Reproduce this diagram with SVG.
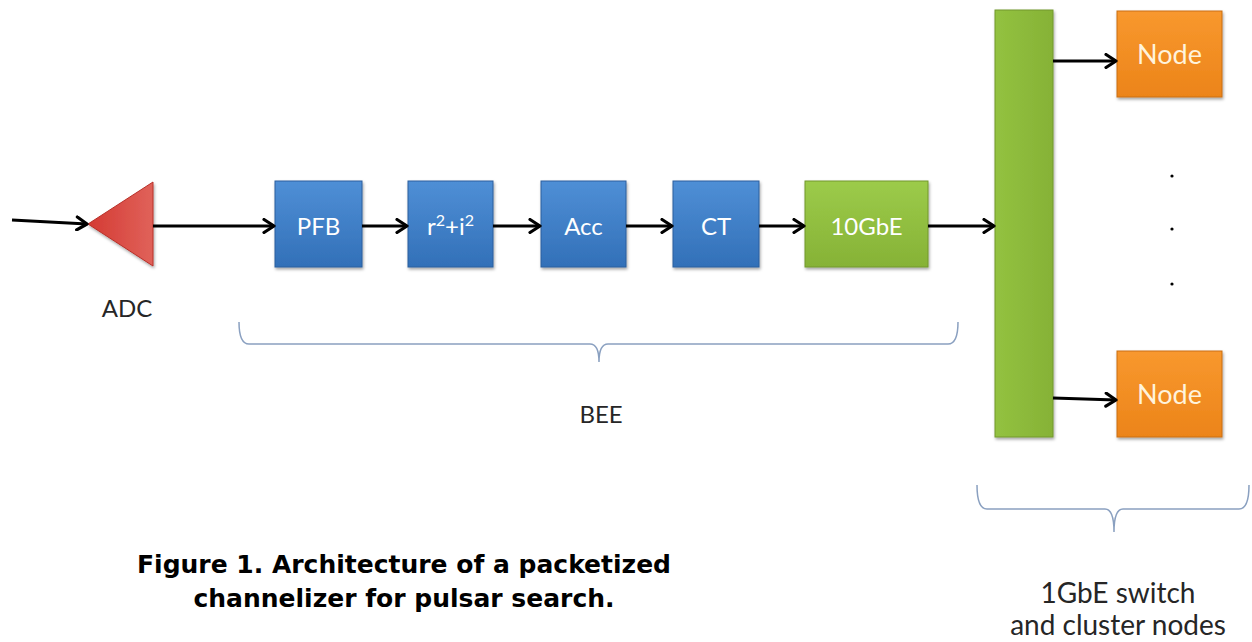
<svg xmlns="http://www.w3.org/2000/svg" width="1252" height="642" viewBox="0 0 1252 642">
<defs>
<linearGradient id="gBlue" x1="0" y1="0" x2="0" y2="1"><stop offset="0" stop-color="#4f8fd6"/><stop offset="1" stop-color="#3270b8"/></linearGradient>
<linearGradient id="gGreen" x1="0" y1="0" x2="0" y2="1"><stop offset="0" stop-color="#9ccb4a"/><stop offset="1" stop-color="#86b236"/></linearGradient>
<linearGradient id="gGreenV" x1="0" y1="0" x2="1" y2="0"><stop offset="0" stop-color="#93c240"/><stop offset="1" stop-color="#86b236"/></linearGradient>
<linearGradient id="gOrange" x1="0" y1="0" x2="0" y2="1"><stop offset="0" stop-color="#f8982e"/><stop offset="1" stop-color="#ec8419"/></linearGradient>
<linearGradient id="gRed" x1="0" y1="0" x2="1" y2="0"><stop offset="0" stop-color="#d43a33"/><stop offset="1" stop-color="#e0625a"/></linearGradient>
<filter id="sh" x="-10%" y="-10%" width="130%" height="130%"><feDropShadow dx="1" dy="2" stdDeviation="1.5" flood-color="#000" flood-opacity="0.35"/></filter>
<marker id="ah" markerWidth="16" markerHeight="16" refX="13" refY="8" orient="auto" markerUnits="userSpaceOnUse"><polyline points="3,1.5 13,8 3,14.5" fill="none" stroke="#000" stroke-width="3.2" stroke-linecap="round" stroke-linejoin="round"/></marker>
<style>
.box{filter:url(#sh);stroke-width:1}
.blue{fill:url(#gBlue);stroke:#2b5f9e}
.green{fill:url(#gGreen);stroke:#72982c}
.orange{fill:url(#gOrange);stroke:#c96e12}
.lbl{font-family:Lato,"Liberation Sans",sans-serif;font-size:24px;fill:#fff;text-anchor:middle}
.nlbl{font-family:Lato,"Liberation Sans",sans-serif;font-size:27px;fill:#fff3dc;text-anchor:middle}
.txt{font-family:Lato,"Liberation Sans",sans-serif;font-size:24px;fill:#262626;text-anchor:middle}
.txt2{font-family:Lato,"Liberation Sans",sans-serif;font-size:28px;fill:#262626;text-anchor:middle}
.cap{font-family:"DejaVu Sans",Verdana,sans-serif;font-weight:bold;font-size:25px;fill:#000;text-anchor:middle}
.conn{stroke:#000;stroke-width:3.2;fill:none;marker-end:url(#ah)}
.brace{stroke:#8aa0c0;stroke-width:1.5;fill:none}
</style>
</defs>
<rect width="1252" height="642" fill="#fff"/>

<g id="adc">
<polygon points="88,224 153,182 153,266" fill="url(#gRed)" stroke="#b83029" stroke-width="1" filter="url(#sh)"/>
<text class="txt" x="127" y="317">ADC</text>
</g>
<g id="pfb"><rect class="box blue" x="275" y="181" width="87" height="86"/><text class="lbl" x="318.5" y="235">PFB</text></g>
<g id="pow"><rect class="box blue" x="408" y="181" width="85" height="86"/><text class="lbl" x="450.5" y="235">r<tspan font-size="16" dy="-9">2</tspan><tspan dy="9">+i</tspan><tspan font-size="16" dy="-9">2</tspan></text></g>
<g id="acc"><rect class="box blue" x="541" y="181" width="85" height="86"/><text class="lbl" x="583.5" y="235">Acc</text></g>
<g id="ct"><rect class="box blue" x="673" y="181" width="86" height="86"/><text class="lbl" x="716" y="235">CT</text></g>
<g id="tengbe"><rect class="box green" x="805" y="181" width="123" height="86"/><text class="lbl" x="866.5" y="235">10GbE</text></g>
<g id="switch"><rect class="box" x="995" y="10" width="58" height="427" fill="url(#gGreenV)" stroke="#72982c"/></g>
<g id="node1"><rect class="box orange" x="1117" y="11" width="105" height="86"/><text class="nlbl" x="1169.5" y="64">Node</text></g>
<g id="node2"><rect class="box orange" x="1117" y="351" width="105" height="86"/><text class="nlbl" x="1169.5" y="404">Node</text></g>
<g id="dots" fill="#000"><circle cx="1172" cy="176" r="1.6"/><circle cx="1172" cy="229" r="1.6"/><circle cx="1172" cy="284" r="1.6"/></g>

<g id="connectors">
<path class="conn" d="M12,220 L87,224"/>
<path class="conn" d="M153,226 L274,226"/>
<path class="conn" d="M362,226 L407,226"/>
<path class="conn" d="M493,226 L540,226"/>
<path class="conn" d="M626,226 L672,226"/>
<path class="conn" d="M759,226 L804,226"/>
<path class="conn" d="M928,226 L994,226"/>
<path class="conn" d="M1053,61 L1116,61"/>
<path class="conn" d="M1053,398 L1116,400"/>
</g>

<g id="bee-brace">
<path class="brace" d="M239,322 Q239,344 249,344 L590,344 Q599,344 599,362 Q599,344 608,344 L948,344 Q958,344 958,322"/>
<text class="txt" x="601" y="423">BEE</text>
</g>
<g id="cluster-brace">
<path class="brace" d="M977,485 Q977,509 987,509 L1105,509 Q1114,509 1114,532 Q1114,509 1123,509 L1239,509 Q1249,509 1249,485"/>
<text class="txt2" x="1118" y="603">1GbE switch</text>
<text class="txt2" x="1118" y="635">and cluster nodes</text>
</g>
<g id="caption">
<text class="cap" x="404" y="573">Figure 1. Architecture of a packetized</text>
<text class="cap" x="404" y="607">channelizer for pulsar search.</text>
</g>
</svg>
